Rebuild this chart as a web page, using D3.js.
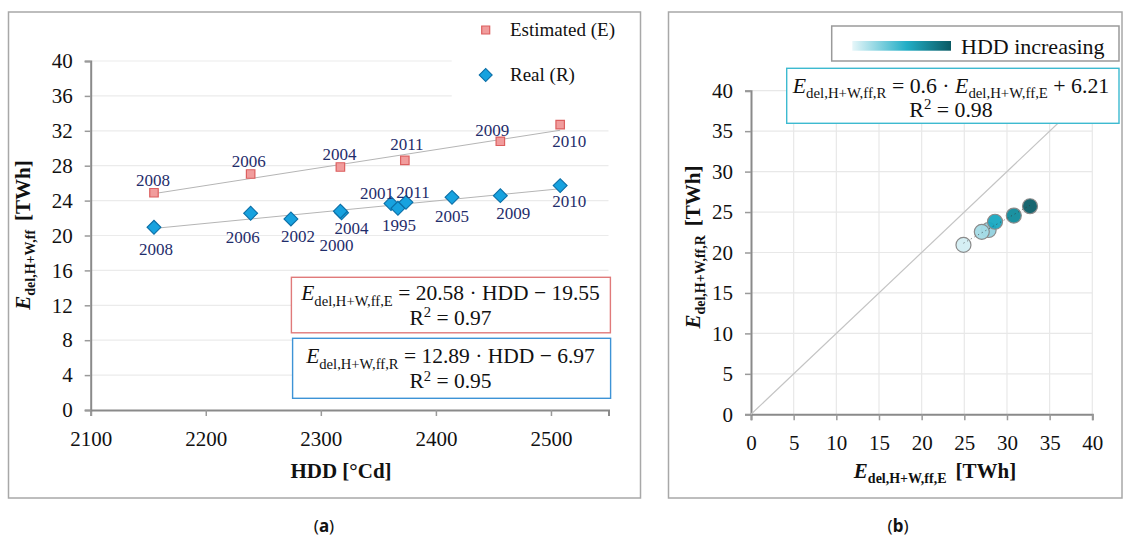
<!DOCTYPE html>
<html>
  <head>
    <meta charset="utf-8"/>
    <style>
body {
  margin: 0;
  background: #fff;
}
svg {
  display: block;
  font-family: "Liberation Serif", "Times New Roman", serif;
}
    </style>
  </head>
  <body>
    <svg id="chart" width="1123" height="538"></svg>
    <script src="https://cdnjs.cloudflare.com/ajax/libs/d3/7.8.5/d3.min.js"></script>
    <script>
// panel (a): estimated and real delivered energy vs HDD
const yearsE = ["2008", "2006", "2004", "2011", "2009", "2010"];
const hddE = [2155, 2239, 2317, 2373, 2456, 2508];
const valE = [24.9, 27.05, 27.85, 28.6, 30.8, 32.7];
const labelOffE = [[-1, -7], [-2, -7], [-1, -7], [2, -10], [-8, -5], [9, 22]];

const yearsR = ["2008", "2006", "2002", "2000", "2004", "2001", "1995", "2011", "2005", "2009", "2010"];
const hddR = [2155, 2239, 2274, 2318, 2317, 2361, 2367, 2374, 2414, 2456, 2508];
const valR = [20.94, 22.55, 21.9, 22.6, 22.78, 23.67, 23.12, 23.8, 24.37, 24.57, 25.72];
const labelOffR = [[2, 28], [-8, 30], [7, 23], [-5, 38], [11, 23], [-14, -4], [1, 23], [7, -4], [0, 25], [13, 23], [9, 21]];

const fitE = [20.58, -19.55];   // HDD in thousands
const fitR = [12.89, -6.97];
const xTicksA = [2100, 2200, 2300, 2400, 2500];
const yTicksA = [0, 4, 8, 12, 16, 20, 24, 28, 32, 36, 40];

// panel (b): real vs estimated, coloured by HDD
const bYears = ["2008", "2004", "2006", "2011", "2009", "2010"];
const bE = [24.9, 27.85, 27.05, 28.6, 30.8, 32.7];
const bR = [20.94, 22.78, 22.55, 23.8, 24.57, 25.72];
const bColors = ["#d3eef3", "#92d1de", "#a4dbe6", "#18a9c2", "#0f8b9b", "#0b5e68"];
const fitB = [0.6, 6.21];
const ticksB = [0, 5, 10, 15, 20, 25, 30, 35, 40];

const svg = d3.select("#chart");
const navy = "#1f2d6b";

// frames
svg.append("rect").attr("x", 8.5).attr("y", 12).attr("width", 632).attr("height", 486)
  .attr("fill", "none").attr("stroke", "#a8a8a8").attr("stroke-width", 1.5);
svg.append("rect").attr("x", 668.5).attr("y", 12).attr("width", 453.5).attr("height", 486)
  .attr("fill", "none").attr("stroke", "#a8a8a8").attr("stroke-width", 1.5);

function eqText(g, x, y, size, parts) {
  // parts: [text, kind] where kind = "i" italic, "s" subscript, "n" normal, "p" superscript
  const t = g.append("text").attr("x", x).attr("y", y).attr("text-anchor", "middle")
    .attr("font-size", size).attr("fill", "#111");
  let shift = 0;
  parts.forEach(([s, k]) => {
    const sp = t.append("tspan").text(s);
    let want = k === "s" ? size * 0.26 : (k === "p" ? -size * 0.36 : 0);
    if (want !== shift) { sp.attr("dy", want - shift); shift = want; }
    if (k === "s" || k === "p") sp.attr("font-size", size * 0.68);
    if (k === "i") sp.attr("font-style", "italic");
  });
  return t;
}

// ---------- panel (a) ----------
const xA = d3.scaleLinear().domain([2100, 2550]).range([90.7, 608.5]);
const yA = d3.scaleLinear().domain([0, 40]).range([410, 61]);
const gA = svg.append("g");

gA.append("g").selectAll("line").data(yTicksA.slice(1)).join("line")
  .attr("x1", xA(2100)).attr("x2", d => d >= 36 ? 451.7 : xA(2550))
  .attr("y1", d => yA(d)).attr("y2", d => yA(d))
  .attr("stroke", "#ebebeb").attr("stroke-width", 1.2);

const axA = gA.append("g").attr("transform", `translate(0,${yA(0)})`)
  .call(d3.axisBottom(xA).tickValues(xTicksA).tickSize(6).tickPadding(10).tickFormat(d3.format("d")));
const ayA = gA.append("g").attr("transform", `translate(${xA(2100)},0)`)
  .call(d3.axisLeft(yA).tickValues(yTicksA).tickSize(6).tickPadding(12));
[axA, ayA].forEach(a => {
  a.attr("font-family", null);
  a.select(".domain").attr("stroke", "#8a8a8a").attr("stroke-width", 2);
  a.selectAll(".tick line").attr("stroke", "#9a9a9a").attr("stroke-width", 1.5);
  a.selectAll(".tick text").attr("font-size", 21).attr("fill", "#111");
});
axA.selectAll(".tick text").attr("dy", "0.95em");

// trend lines
[[hddE, fitE], [hddR, fitR]].forEach(([h, f]) => {
  const x0 = d3.min(h), x1 = d3.max(h);
  gA.append("line")
    .attr("x1", xA(x0)).attr("y1", yA(f[0] * x0 / 1000 + f[1]))
    .attr("x2", xA(x1)).attr("y2", yA(f[0] * x1 / 1000 + f[1]))
    .attr("stroke", "#b5b5b5").attr("stroke-width", 1);
});

// markers
const sq = d3.symbol().type(d3.symbolSquare).size(72);
const dia = d3.symbol().type(d3.symbolSquare).size(96);
gA.append("g").selectAll("path").data(hddE).join("path")
  .attr("d", sq).attr("transform", (d, i) => `translate(${xA(d)},${yA(valE[i])})`)
  .attr("fill", "#f19c9c").attr("stroke", "#dc5f5f").attr("stroke-width", 1.2);
gA.append("g").selectAll("path").data(hddR).join("path")
  .attr("d", dia).attr("transform", (d, i) => `translate(${xA(d)},${yA(valR[i])}) rotate(45)`)
  .attr("fill", "#17a2df").attr("stroke", "#0b6ea6").attr("stroke-width", 1.1);

// year labels
gA.append("g").selectAll("text").data(yearsE).join("text")
  .attr("x", (d, i) => xA(hddE[i]) + labelOffE[i][0])
  .attr("y", (d, i) => yA(valE[i]) + labelOffE[i][1])
  .attr("text-anchor", "middle").attr("font-size", 17).attr("fill", navy).text(d => d);
gA.append("g").selectAll("text").data(yearsR).join("text")
  .attr("x", (d, i) => xA(hddR[i]) + labelOffR[i][0])
  .attr("y", (d, i) => yA(valR[i]) + labelOffR[i][1])
  .attr("text-anchor", "middle").attr("font-size", 17).attr("fill", navy).text(d => d);

// legend
gA.append("rect").attr("x", 452).attr("y", 14).attr("width", 186).attr("height", 90).attr("fill", "#fff");
gA.append("path").attr("d", d3.symbol().type(d3.symbolSquare).size(64))
  .attr("transform", "translate(485.7,30)").attr("fill", "#f19c9c").attr("stroke", "#dc5f5f").attr("stroke-width", 1.2);
gA.append("text").attr("x", 510).attr("y", 36).attr("font-size", 19).attr("fill", "#111").text("Estimated (E)");
gA.append("path").attr("d", d3.symbol().type(d3.symbolSquare).size(84))
  .attr("transform", "translate(485.7,75) rotate(45)").attr("fill", "#17a2df").attr("stroke", "#0b6ea6").attr("stroke-width", 1.1);
gA.append("text").attr("x", 510).attr("y", 81).attr("font-size", 19).attr("fill", "#111").text("Real (R)");

// equation boxes
gA.append("rect").attr("x", 291.4).attr("y", 277.3).attr("width", 319).attr("height", 55.5)
  .attr("fill", "#fff").attr("stroke", "#e07a7a").attr("stroke-width", 1.4);
eqText(gA, 450.5, 300, 21.5, [["E", "i"], ["del,H+W,ff,E", "s"], [" = 20.58 · HDD − 19.55", "n"]]);
eqText(gA, 450.5, 325, 21.5, [["R", "n"], ["2", "p"], [" = 0.97", "n"]]);
gA.append("rect").attr("x", 292.6).attr("y", 338.3).attr("width", 318).attr("height", 60)
  .attr("fill", "#fff").attr("stroke", "#3d93d6").attr("stroke-width", 1.4);
eqText(gA, 450.5, 363.3, 21.5, [["E", "i"], ["del,H+W,ff,R", "s"], [" = 12.89 · HDD − 6.97", "n"]]);
eqText(gA, 450.5, 388.3, 21.5, [["R", "n"], ["2", "p"], [" = 0.95", "n"]]);

// axis titles
gA.append("text").attr("x", 341).attr("y", 478).attr("text-anchor", "middle")
  .attr("font-size", 21).attr("font-weight", "bold").attr("fill", "#111").text("HDD [°Cd]");
const tyA = gA.append("text").attr("transform", "translate(30,235) rotate(-90)")
  .attr("text-anchor", "middle").attr("font-size", 21).attr("font-weight", "bold").attr("fill", "#111");
tyA.append("tspan").attr("font-style", "italic").text("E");
tyA.append("tspan").attr("font-size", 14).attr("dy", 5).text("del,H+W,ff");
tyA.append("tspan").attr("dy", -5).attr("dx", 9).text("[TWh]");

// ---------- panel (b) ----------
const xB = d3.scaleLinear().domain([0, 40]).range([751, 1092.3]);
const yB = d3.scaleLinear().domain([0, 40]).range([414.3, 90.7]);
const gB = svg.append("g");

gB.append("g").selectAll("line").data(ticksB.slice(1)).join("line")
  .attr("x1", xB(0)).attr("x2", xB(40)).attr("y1", d => yB(d)).attr("y2", d => yB(d))
  .attr("stroke", "#e8e8e8").attr("stroke-width", 1.2);
gB.append("g").selectAll("line").data(ticksB.slice(1)).join("line")
  .attr("y1", yB(0)).attr("y2", yB(40)).attr("x1", d => xB(d)).attr("x2", d => xB(d))
  .attr("stroke", "#e8e8e8").attr("stroke-width", 1.2);

const axB = gB.append("g").attr("transform", `translate(0,${yB(0)})`)
  .call(d3.axisBottom(xB).tickValues(ticksB).tickSize(6).tickPadding(10));
const ayB = gB.append("g").attr("transform", `translate(${xB(0)},0)`)
  .call(d3.axisLeft(yB).tickValues(ticksB).tickSize(6).tickPadding(12));
[axB, ayB].forEach(a => {
  a.attr("font-family", null);
  a.select(".domain").attr("stroke", "#8a8a8a").attr("stroke-width", 2);
  a.selectAll(".tick line").attr("stroke", "#9a9a9a").attr("stroke-width", 1.5);
  a.selectAll(".tick text").attr("font-size", 21).attr("fill", "#111");
});
axB.selectAll(".tick text").attr("dy", "0.95em");

// 1:1 line
gB.append("line").attr("x1", xB(0)).attr("y1", yB(0)).attr("x2", xB(40)).attr("y2", yB(40))
  .attr("stroke", "#c4c4c4").attr("stroke-width", 1.2);

// trend (dotted)
const e0 = d3.min(bE), e1 = d3.max(bE);
gB.append("g").selectAll("circle").data(bE).join("circle")
  .attr("cx", d => xB(d)).attr("cy", (d, i) => yB(bR[i])).attr("r", 7.5)
  .attr("fill", (d, i) => bColors[i]).attr("fill-opacity", 0.95)
  .attr("stroke", "#8a8a8a").attr("stroke-width", 1.2);
gB.append("line")
  .attr("x1", xB(e0)).attr("y1", yB(fitB[0] * e0 + fitB[1]))
  .attr("x2", xB(e1)).attr("y2", yB(fitB[0] * e1 + fitB[1]))
  .attr("stroke", "#333").attr("stroke-opacity", 0.7).attr("stroke-width", 0.9).attr("stroke-dasharray", "1.2,3");

// legend box with gradient
const grad = svg.append("defs").append("linearGradient").attr("id", "hddgrad");
grad.append("stop").attr("offset", "0%").attr("stop-color", "#e6f6f9");
grad.append("stop").attr("offset", "55%").attr("stop-color", "#22aec6");
grad.append("stop").attr("offset", "100%").attr("stop-color", "#0b5a64");
gB.append("rect").attr("x", 831.7).attr("y", 26).attr("width", 287.3).attr("height", 35)
  .attr("fill", "#fff").attr("stroke", "#9a9a9a").attr("stroke-width", 1.5);
gB.append("rect").attr("x", 852.3).attr("y", 41).attr("width", 98.7).attr("height", 9.7).attr("fill", "url(#hddgrad)");
gB.append("text").attr("x", 961).attr("y", 54).attr("font-size", 22).attr("fill", "#111").text("HDD increasing");

// equation box
gB.append("rect").attr("x", 786.7).attr("y", 68.3).attr("width", 332.3).attr("height", 55)
  .attr("fill", "#fff").attr("stroke", "#3dbad0").attr("stroke-width", 1.4);
eqText(gB, 951, 92.5, 21.8, [["E", "i"], ["del,H+W,ff,R", "s"], [" = 0.6 · ", "n"], ["E", "i"], ["del,H+W,ff,E", "s"], [" + 6.21", "n"]]);
eqText(gB, 951, 117, 21.8, [["R", "n"], ["2", "p"], [" = 0.98", "n"]]);

// axis titles
const txB = gB.append("text").attr("x", 935).attr("y", 478).attr("text-anchor", "middle")
  .attr("font-size", 21).attr("font-weight", "bold").attr("fill", "#111");
txB.append("tspan").attr("font-style", "italic").text("E");
txB.append("tspan").attr("font-size", 14).attr("dy", 5).text("del,H+W,ff,E");
txB.append("tspan").attr("dy", -5).attr("dx", 9).text("[TWh]");
const tyB = gB.append("text").attr("transform", "translate(700,247) rotate(-90)")
  .attr("text-anchor", "middle").attr("font-size", 21).attr("font-weight", "bold").attr("fill", "#111");
tyB.append("tspan").attr("font-style", "italic").text("E");
tyB.append("tspan").attr("font-size", 14).attr("dy", 5).text("del,H+W,ff,R");
tyB.append("tspan").attr("dy", -5).attr("dx", 9).text("[TWh]");

// panel captions
[["a", 324], ["b", 898]].forEach(([c, x]) => {
  const t = svg.append("text").attr("x", x).attr("y", 532).attr("text-anchor", "middle")
    .attr("font-family", "Noto Sans, DejaVu Sans, sans-serif").attr("font-size", 17).attr("fill", "#111");
  t.append("tspan").text("(");
  t.append("tspan").attr("font-weight", "bold").text(c);
  t.append("tspan").text(")");
});
    </script>
  </body>
</html>
